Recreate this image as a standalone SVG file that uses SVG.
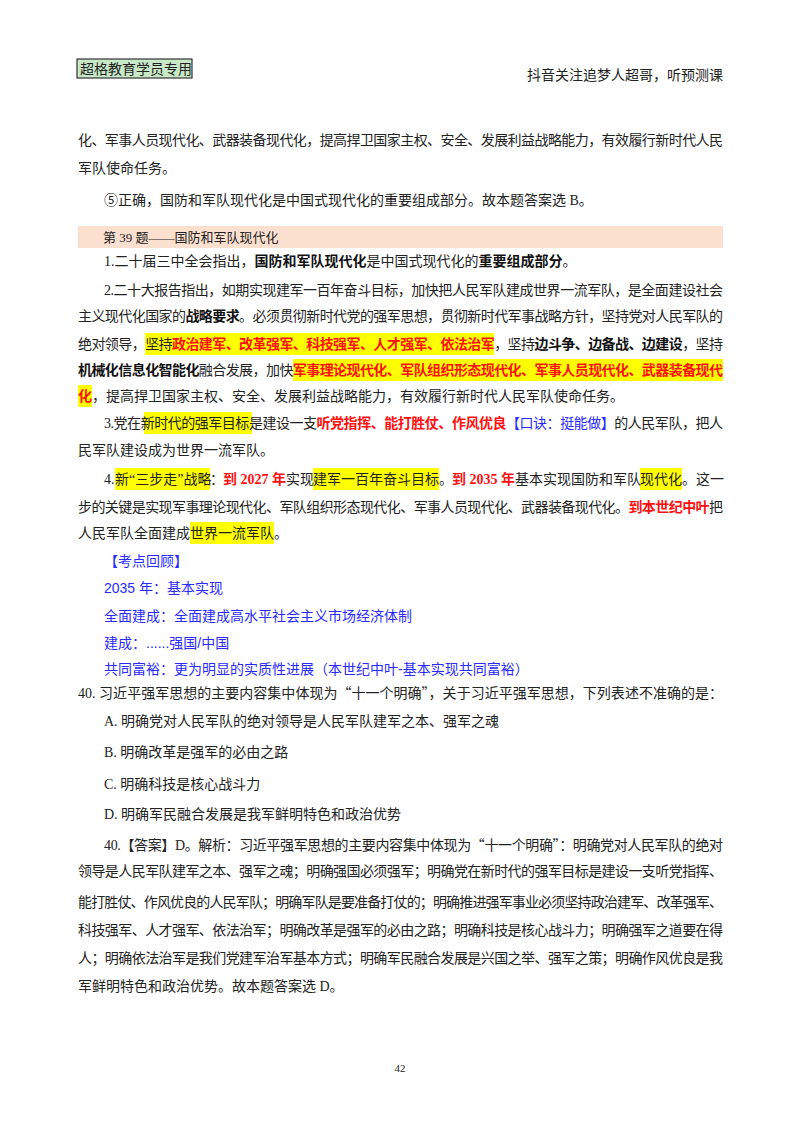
<svg xmlns="http://www.w3.org/2000/svg" width="800" height="1132" viewBox="0 0 800 1132">
<style>
text{font-family:"Liberation Serif","Noto Sans CJK SC",serif;font-size:14px;fill:#222}
.b{font-weight:bold;fill:#111}
.r{font-weight:bold;fill:#ff1010}
.bl{fill:#2a2aff;font-family:"Liberation Sans","Noto Sans CJK SC",sans-serif}
.hl{fill:#ffff00}
.q{font-family:"Noto Sans CJK SC",sans-serif}
</style>
<rect width="800" height="1132" fill="#fff"/>
<g id="header">
<rect x="77" y="59" width="115" height="19" fill="#c8e8c8" stroke="#333" stroke-width="1.2"/>
<text x="80" y="74">超格教育学员专用</text>
<text x="723" y="80" text-anchor="end">抖音关注追梦人超哥，听预测课</text>
</g>
<g id="highlights">
<rect class="hl" x="145" y="333" width="349" height="22"/>
<rect class="hl" x="293" y="359" width="430" height="22"/>
<rect class="hl" x="78" y="385" width="14" height="22"/>
<rect class="hl" x="144" y="412" width="108" height="22"/>
<rect class="hl" x="115" y="468" width="95" height="22"/>
<rect class="hl" x="313" y="468" width="126" height="22"/>
<rect class="hl" x="640" y="468" width="42" height="22"/>
<rect class="hl" x="190" y="522" width="84" height="22"/>
</g>
<g id="body">
<text x="78" y="145" textLength="645" lengthAdjust="spacing">化、军事人员现代化、武器装备现代化，提高捍卫国家主权、安全、发展利益战略能力，有效履行新时代人民</text>
<text x="78" y="173">军队使命任务。</text>
<text x="104" y="205">⑤正确，国防和军队现代化是中国式现代化的重要组成部分。故本题答案选 B。</text>
<rect x="78" y="226" width="645" height="22" fill="#fce0cf"/>
<text x="103" y="242" style="font-size:13px">第 39 题——国防和军队现代化</text>
<text x="104" y="266">1.二十届三中全会指出，<tspan class="b">国防和军队现代化</tspan>是中国式现代化的<tspan class="b">重要组成部分</tspan>。</text>
<text x="104" y="295" textLength="619" lengthAdjust="spacing">2.二十大报告指出，如期实现建军一百年奋斗目标，加快把人民军队建成世界一流军队，是全面建设社会</text>
<text x="78" y="321" textLength="645" lengthAdjust="spacing">主义现代化国家的<tspan class="b">战略要求</tspan>。必须贯彻新时代党的强军思想，贯彻新时代军事战略方针，坚持党对人民军队的</text>
<text x="78" y="349" textLength="645" lengthAdjust="spacing">绝对领导，坚持<tspan class="r">政治建军、改革强军、科技强军、人才强军、依法治军</tspan>，坚持<tspan class="b">边斗争、边备战、边建设</tspan>，坚持</text>
<text x="78" y="375" textLength="645" lengthAdjust="spacing"><tspan class="b">机械化信息化智能化</tspan>融合发展，加快<tspan class="r">军事理论现代化、军队组织形态现代化、军事人员现代化、武器装备现代</tspan></text>
<text x="78" y="401"><tspan class="r">化</tspan>，提高捍卫国家主权、安全、发展利益战略能力，有效履行新时代人民军队使命任务。</text>
<text x="104" y="428" textLength="619" lengthAdjust="spacing">3.党在新时代的强军目标是建设一支<tspan class="r">听党指挥、能打胜仗、作风优良</tspan><tspan style="fill:#2a2aff">【口诀：挺能做】</tspan>的人民军队，把人</text>
<text x="78" y="455">民军队建设成为世界一流军队。</text>
<text x="104" y="484">4.</text>
<text x="115" y="484">新“三步走”战略</text>
<text x="210" y="484">：</text>
<text x="223" y="484" class="r">到 2027 年</text>
<text x="286" y="484">实现</text>
<text x="313" y="484">建军一百年奋斗目标</text>
<text x="439" y="484">。</text>
<text x="452" y="484" class="r">到 2035 年</text>
<text x="515" y="484">基本实现国防和军队</text>
<text x="640" y="484">现代化</text>
<text x="682" y="484">。这一</text>
<text x="78" y="512" textLength="645" lengthAdjust="spacing">步的关键是实现军事理论现代化、军队组织形态现代化、军事人员现代化、武器装备现代化。<tspan class="r">到本世纪中叶</tspan>把</text>
<text x="78" y="538">人民军队全面建成世界一流军队。</text>
</g>
<g id="review">
<text class="bl" x="104" y="566">【考点回顾】</text>
<text class="bl" x="104" y="593">2035 年：基本实现</text>
<text class="bl" x="104" y="621">全面建成：全面建成高水平社会主义市场经济体制</text>
<text class="bl" x="104" y="648">建成：......强国/中国</text>
<text class="bl" x="104" y="674">共同富裕：更为明显的实质性进展（本世纪中叶-基本实现共同富裕）</text>
</g>
<g id="question">
<text x="78" y="698" textLength="645" lengthAdjust="spacing">40. 习近平强军思想的主要内容集中体现为<tspan class="q">“</tspan>十一个明确<tspan class="q">”</tspan>，关于习近平强军思想，下列表述不准确的是：</text>
<text x="104" y="726">A. 明确党对人民军队的绝对领导是人民军队建军之本、强军之魂</text>
<text x="104" y="757">B. 明确改革是强军的必由之路</text>
<text x="104" y="789">C. 明确科技是核心战斗力</text>
<text x="104" y="819">D. 明确军民融合发展是我军鲜明特色和政治优势</text>
<text x="104" y="850" textLength="619" lengthAdjust="spacing">40.【答案】D。解析：习近平强军思想的主要内容集中体现为<tspan class="q">“</tspan>十一个明确<tspan class="q">”</tspan>：明确党对人民军队的绝对</text>
<text x="78" y="876" textLength="645" lengthAdjust="spacing">领导是人民军队建军之本、强军之魂；明确强国必须强军；明确党在新时代的强军目标是建设一支听党指挥、</text>
<text x="78" y="907" textLength="645" lengthAdjust="spacing">能打胜仗、作风优良的人民军队；明确军队是要准备打仗的；明确推进强军事业必须坚持政治建军、改革强军、</text>
<text x="78" y="935" textLength="645" lengthAdjust="spacing">科技强军、人才强军、依法治军；明确改革是强军的必由之路；明确科技是核心战斗力；明确强军之道要在得</text>
<text x="78" y="963" textLength="645" lengthAdjust="spacing">人；明确依法治军是我们党建军治军基本方式；明确军民融合发展是兴国之举、强军之策；明确作风优良是我</text>
<text x="78" y="991">军鲜明特色和政治优势。故本题答案选 D。</text>
</g>
<text x="400" y="1072" text-anchor="middle" style="font-size:11px">42</text>
</svg>
